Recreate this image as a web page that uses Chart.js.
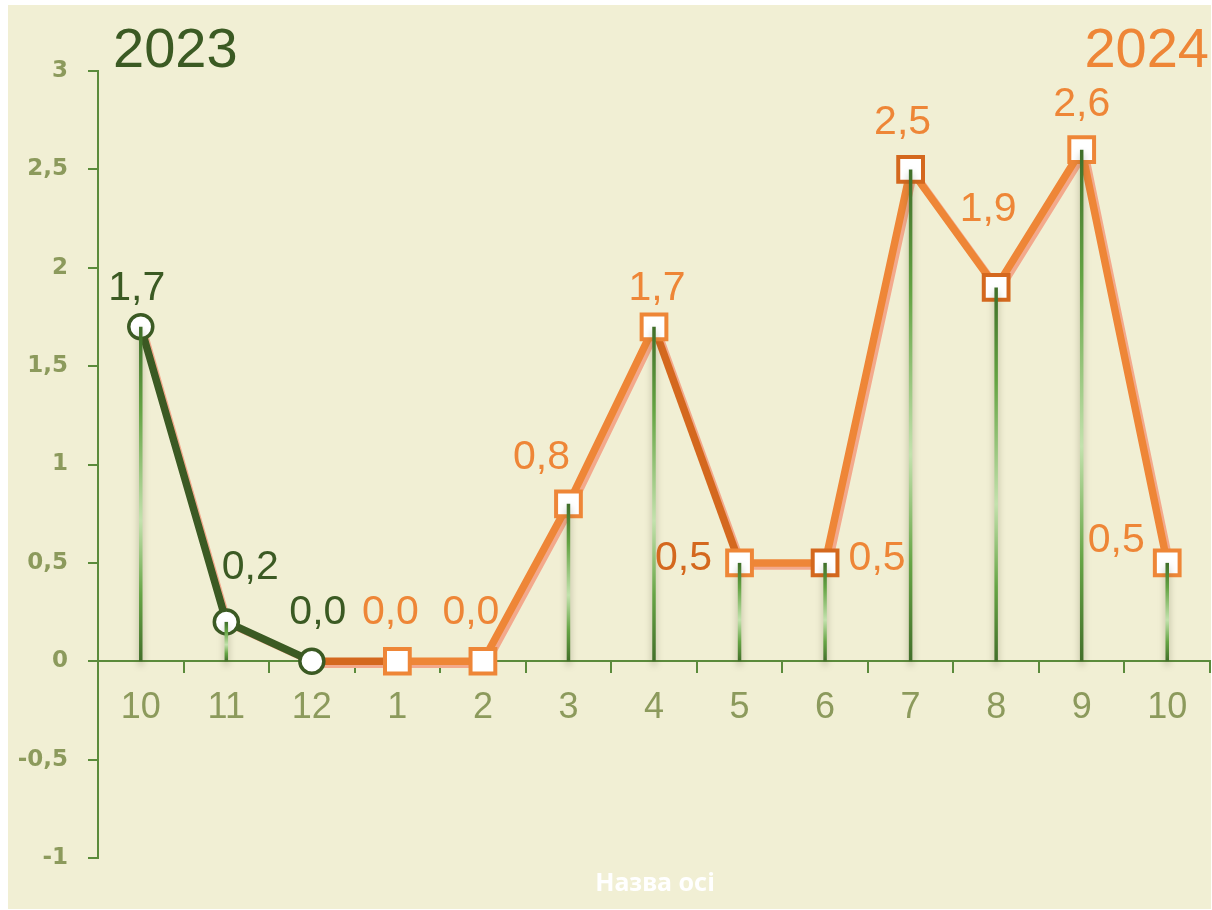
<!DOCTYPE html>
<html><head><meta charset="utf-8">
<script src="https://cdn.jsdelivr.net/npm/chart.js@4/dist/chart.umd.min.js"></script>
<style>html,body{margin:0;padding:0;background:#fff;}canvas{display:block}</style>
</head><body>
<canvas id="c" width="1212" height="910"></canvas>
<script>
// ---- data ----
const categories = ['10','11','12','1','2','3','4','5','6','7','8','9','10'];
const values2023 = [1.7, 0.2, 0.0, null, null, null, null, null, null, null, null, null, null];
const values2024 = [null, null, 0.0, 0.0, 0.0, 0.8, 1.7, 0.5, 0.5, 2.5, 1.9, 2.6, 0.5];
const yTickValues = [-1, -0.5, 0, 0.5, 1, 1.5, 2, 2.5, 3];
const seriesNames = ['2023', '2024'];
const axisTitleText = 'Назва осі';

// ---- styles ----
const BG = '#f1efd4';
const AXIS = '#5b8b3b';
const OLIVE = '#8c9a5c';
const DKGREEN = '#3b5a23';
const ORANGE = '#ee8637';
const DKORANGE = '#d4681e';
const SALMON = '#f3a98c';
const darkSegmentStarts = [2, 6];
const darkMarkers = [8, 9, 10];
// label offsets (px, relative to point) per series; null = no label
const labelOffsets2023 = [[-4,-38],[24,-54],[6,-49],null,null,null,null,null,null,null,null,null,null];
const labelOffsets2024 = [null,null,null,[-7,-49],[-12,-49],[-27,-46],[3,-38],[-56,-4],[52,-4],[-8,-47],[-8,-78],[0,-45],[-51,-22]];
const labelColors2024 = [null,null,null,ORANGE,ORANGE,ORANGE,ORANGE,DKORANGE,ORANGE,ORANGE,ORANGE,ORANGE,ORANGE];

const fmt = v => v.toFixed(1).replace('.', ',');

const bgPlugin = {
  id: 'bg',
  beforeDraw(chart) {
    const ctx = chart.ctx;
    ctx.save();
    ctx.fillStyle = '#ffffff';
    ctx.fillRect(0, 0, chart.width, chart.height);
    ctx.fillStyle = BG;
    ctx.fillRect(8, 5, chart.width - 9, chart.height - 6);
    ctx.restore();
  },
  beforeDatasetDraw(chart, args) {
    const ds = chart.data.datasets[args.index];
    if (ds.shift) { chart.ctx.save(); chart.ctx.translate(ds.shift[0], ds.shift[1]); }
  },
  afterDatasetDraw(chart, args) {
    const ds = chart.data.datasets[args.index];
    if (ds.shift) chart.ctx.restore();
  },
  afterDatasetsDraw(chart) {
    const ctx = chart.ctx;
    const y0 = chart.scales.y.getPixelForValue(0);
    // drop lines
    [0, 1].forEach(di => {
      const ds = chart.data.datasets[di];
      const meta = chart.getDatasetMeta(di);
      meta.data.forEach((pt, i) => {
        const v = ds.data[i];
        if (v == null || v === 0) return;
        ctx.save();
        const g = ctx.createLinearGradient(0, pt.y, 0, y0);
        g.addColorStop(0, '#3f6e29');
        g.addColorStop(0.25, '#64a443');
        g.addColorStop(0.58, '#c3e2ad');
        g.addColorStop(0.8, '#66a545');
        g.addColorStop(1, '#426f2a');
        ctx.shadowColor = 'rgba(70,70,35,0.4)';
        ctx.shadowBlur = 7;
        ctx.shadowOffsetY = 4;
        ctx.strokeStyle = g;
        ctx.lineWidth = 3.5;
        ctx.beginPath();
        ctx.moveTo(pt.x, pt.y);
        ctx.lineTo(pt.x, y0);
        ctx.stroke();
        ctx.restore();
      });
    });
    // data labels
    ctx.save();
    ctx.font = '41px "Liberation Sans", Arial, sans-serif';
    ctx.textAlign = 'center';
    ctx.textBaseline = 'middle';
    [[0, labelOffsets2023, null], [1, labelOffsets2024, labelColors2024]].forEach(([di, offs, cols]) => {
      const ds = chart.data.datasets[di];
      const meta = chart.getDatasetMeta(di);
      meta.data.forEach((pt, i) => {
        const v = ds.data[i];
        if (v == null || !offs[i]) return;
        ctx.fillStyle = cols ? cols[i] : DKGREEN;
        ctx.fillText(fmt(v), pt.x + offs[i][0], pt.y + offs[i][1]);
      });
    });
    // series titles
    ctx.font = '56px "Liberation Sans", Arial, sans-serif';
    ctx.textBaseline = 'alphabetic';
    ctx.textAlign = 'left';
    ctx.fillStyle = DKGREEN;
    ctx.fillText(chart.data.datasets[0].label, 113, 67);
    ctx.textAlign = 'right';
    ctx.fillStyle = ORANGE;
    ctx.fillText(chart.data.datasets[1].label, 1209, 67);
    // axis title
    ctx.font = 'bold 25px "Noto Sans", "Open Sans", sans-serif';
    ctx.textAlign = 'center';
    ctx.textBaseline = 'middle';
    ctx.fillStyle = '#ffffff';
    ctx.fillText(axisTitleText, 655, 884);
    ctx.restore();
  }
};

new Chart(document.getElementById('c'), {
  type: 'line',
  data: {
    labels: categories,
    datasets: [
      {
        label: seriesNames[0], data: values2023, order: 0,
        borderColor: DKGREEN, borderWidth: 7.5, tension: 0,
        pointStyle: 'circle', pointRadius: 12, pointBorderWidth: 3.5,
        pointBackgroundColor: '#ffffff', pointBorderColor: DKGREEN
      },
      {
        label: seriesNames[1], data: values2024, order: 1,
        borderColor: ORANGE, borderWidth: 7.5, tension: 0,
        segment: { borderColor: c => darkSegmentStarts.includes(c.p0DataIndex) ? DKORANGE : ORANGE },
        pointStyle: 'rect',
        pointRadius: c => c.dataIndex === 2 ? 0 : 17.5,
        pointBorderWidth: 4,
        pointBackgroundColor: '#ffffff',
        pointBorderColor: c => darkMarkers.includes(c.dataIndex) ? DKORANGE : ORANGE
      },
      {
        label: 'shadow2023', data: values2023, order: 3, shift: [2, 1.5],
        borderColor: SALMON, borderWidth: 7, pointRadius: 0, tension: 0
      },
      {
        label: 'shadow2024', data: values2024, order: 4, shift: [3, 3],
        borderColor: SALMON, borderWidth: 7.5, pointRadius: 0, tension: 0
      }
    ]
  },
  options: {
    responsive: false,
    animation: false,
    devicePixelRatio: 1,
    layout: { autoPadding: false, padding: { left: 8, top: 71, right: 2, bottom: 52 } },
    plugins: { legend: { display: false }, tooltip: { enabled: false }, title: { display: false } },
    scales: {
      y: {
        min: -1, max: 3,
        afterFit: s => { s.width = 90; },
        afterBuildTicks: s => { s.ticks = yTickValues.map(v => ({ value: v })); },
        grid: { drawOnChartArea: false, drawTicks: true, tickLength: 10, color: AXIS, lineWidth: 2 },
        border: { display: true, color: AXIS, width: 2 },
        ticks: {
          padding: 20, color: OLIVE,
          font: { family: '"DejaVu Sans", sans-serif', weight: 'bold', size: 23 },
          callback: v => String(v).replace('.', ',')
        }
      },
      x: {
        type: 'category', offset: true,
        position: { y: 0 },
        afterFit: s => { s.paddingLeft = 0; s.paddingRight = 0; },
        grid: { offset: true, drawOnChartArea: false, drawTicks: true, tickLength: 11, color: AXIS, lineWidth: 2 },
        border: { display: true, color: AXIS, width: 2 },
        ticks: {
          padding: 14, color: OLIVE, maxRotation: 0, autoSkip: false,
          font: { family: '"Liberation Sans", Arial, sans-serif', size: 36 }
        }
      }
    }
  },
  plugins: [bgPlugin]
});
</script>
</body></html>
